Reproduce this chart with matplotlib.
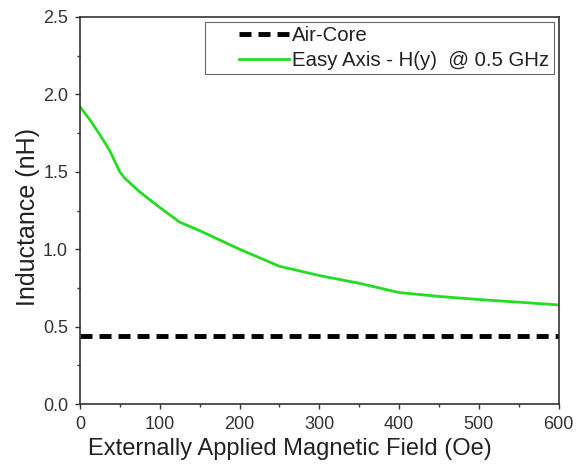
import numpy as np
import matplotlib.pyplot as plt
from matplotlib.ticker import MultipleLocator
from matplotlib.legend_handler import HandlerLine2D

plt.rcParams['font.family'] = ['Liberation Sans', 'DejaVu Sans']

# values
field = [0, 12, 25, 37, 50, 56, 75, 100, 125, 150, 200, 250, 300, 350, 400, 450, 500, 550, 600]
easy_axis = [1.92, 1.84, 1.74, 1.64, 1.50, 1.46, 1.37, 1.27, 1.175, 1.12, 1.00, 0.89,
             0.83, 0.78, 0.72, 0.695, 0.675, 0.658, 0.64]
air_core_x = [0, 600]
air_core = [0.44, 0.44]

fig = plt.figure(figsize=(5.79, 4.72), dpi=100)
ax = fig.add_axes([0.138, 0.144, 0.827, 0.82])

air, = ax.plot(air_core_x, air_core, color='black', lw=3.5, linestyle=(0, (2.47, 1.44)),
               label='Air-Core')
easy, = ax.plot(field, easy_axis, color='#22dd22', lw=2, label='Easy Axis - H(y)  @ 0.5 GHz')

ax.set_xlim(0, 600)
ax.set_ylim(0, 2.5)
ax.xaxis.set_major_locator(MultipleLocator(100))
ax.xaxis.set_minor_locator(MultipleLocator(50))
ax.yaxis.set_major_locator(MultipleLocator(0.5))
ax.yaxis.set_minor_locator(MultipleLocator(0.25))
ax.yaxis.set_major_formatter(plt.FormatStrFormatter('%.1f'))
ax.tick_params(which='major', direction='out', length=3.5, width=1, labelsize=13,
               colors='#333333', pad=5)
ax.tick_params(which='minor', direction='out', length=2.5, width=1, colors='#333333')
for s in ax.spines.values():
    s.set_linewidth(1.2)
    s.set_color('#333333')

ax.set_xlabel('Externally Applied Magnetic Field (Oe)', fontsize=17, color='#222222')
ax.set_ylabel('Inductance (nH)', fontsize=18, color='#222222')
ax.xaxis.set_label_coords(0.438, -0.088)
ax.yaxis.set_label_coords(-0.084, 0.482)

hmap = {air: HandlerLine2D(xpad=1.47), easy: HandlerLine2D(xpad=1.47)}
leg = ax.legend(loc='upper right', fontsize=14.7, frameon=True, fancybox=False,
                edgecolor='#666666', framealpha=1, handlelength=3.92, handletextpad=0.15,
                borderpad=0.2, labelspacing=0.3, borderaxespad=0.25, handler_map=hmap)
leg.get_frame().set_linewidth(0.8)
for t in leg.get_texts():
    t.set_color('#222222')

fig.savefig('out.png', dpi=100)
plt.close()
